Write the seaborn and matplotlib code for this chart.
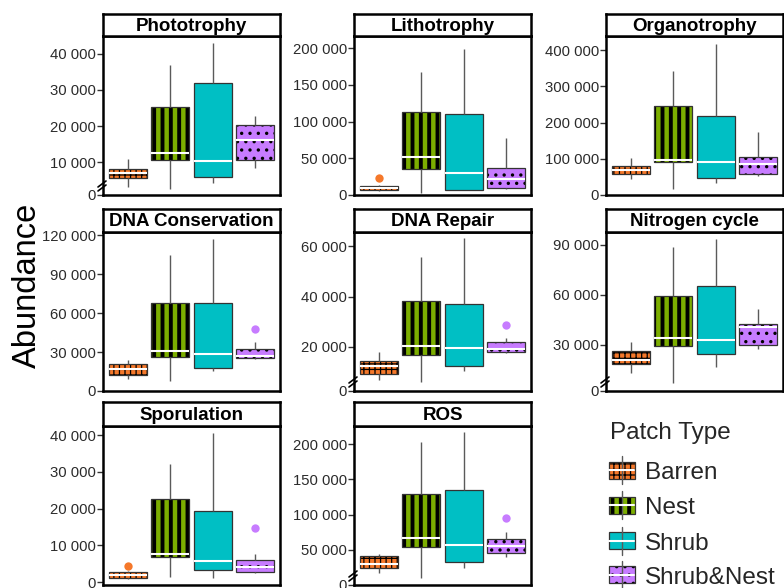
import numpy as np
import pandas as pd
import matplotlib
matplotlib.use("Agg")
import matplotlib.pyplot as plt
import matplotlib.colors as mcolors
from matplotlib.patches import Rectangle
import seaborn as sns

# ---------------------------------------------------------------- data
patch_types = ["Barren", "Nest", "Shrub", "Shrub&Nest"]
functions = ["Phototrophy", "Lithotrophy", "Organotrophy",
             "DNA Conservation", "DNA Repair", "Nitrogen cycle",
             "Sporulation", "ROS"]

# five-number summaries per patch type:
# lower whisker, Q1, median, Q3, upper whisker
phototrophy = [[3130, 5610, 7080, 8190, 10860],
               [2580, 10670, 12600, 25200, 36890],
               [4230, 5890, 10490, 32010, 42870],
               [8370, 10670, 16190, 20420, 22820]]
lithotrophy = [[5500, 7200, 10000, 12600, 13000],
               [3150, 35600, 52250, 113500, 167100],
               [6800, 7200, 29300, 109900, 198600],
               [8100, 9460, 21600, 36500, 77000]]
organotrophy = [[45000, 57000, 69000, 81000, 103000],
                [15600, 90000, 96600, 245600, 342200],
                [34000, 46000, 90200, 219000, 416700],
                [53400, 57000, 85600, 105800, 173000]]
dna_conservation = [[9100, 12100, 16900, 20900, 24200],
                    [7800, 26000, 30500, 68100, 105100],
                    [15100, 17900, 28500, 67800, 117000],
                    [25000, 25500, 26700, 32300, 37600]]
dna_repair = [[6600, 9300, 12300, 14200, 18000],
              [5800, 16700, 20300, 38400, 55800],
              [10500, 12500, 19500, 37000, 63300],
              [17500, 17900, 19000, 21900, 23600]]
nitrogen_cycle = [[13000, 18700, 20900, 26300, 31500],
                  [7000, 29300, 33900, 59400, 88700],
                  [16900, 24500, 32900, 65400, 93700],
                  [27300, 29900, 40500, 42300, 51800]]
sporulation = [[900, 1000, 1930, 2840, 3000],
               [1470, 6900, 7600, 22600, 32200],
               [1200, 3200, 5700, 19400, 40700],
               [2400, 2840, 4200, 5900, 7600]]
ros = [[17600, 23800, 29500, 40500, 43800],
       [10500, 53800, 66200, 128600, 202400],
       [23800, 33300, 56200, 135200, 217100],
       [39500, 44800, 54800, 65200, 75200]]

outlier_function = ["Lithotrophy", "DNA Conservation", "DNA Repair",
                    "Sporulation", "Sporulation", "ROS"]
outlier_patch = ["Barren", "Shrub&Nest", "Shrub&Nest",
                 "Barren", "Shrub&Nest", "Shrub&Nest"]
outlier_value = [22500, 47400, 28500, 4300, 14600, 95200]

# y axis per panel
tick_step = [10000, 50000, 100000, 30000, 20000, 30000, 10000, 50000]
tick_count = [4, 4, 4, 4, 3, 3, 4, 4]
y_floor = [1000, 0, 0, 0, 2400, 2400, -800, 0]
y_ceiling = [44900, 216600, 438900, 122500, 65700, 97700, 42500, 225700]
axis_break = [True, False, False, False, True, True, False, True]

# ---------------------------------------------------------------- styling
palette = {"Barren": "#F5782A", "Nest": "#7CAE00",
           "Shrub": "#00BFC4", "Shrub&Nest": "#C77CFF"}
hatches = {"Barren": "+++", "Nest": "||", "Shrub": "", "Shrub&Nest": ".."}
hatch_lw = {"Barren": 0.9, "Nest": 2.8, "Shrub": 1.0, "Shrub&Nest": 1.2}

sns.set_style("white")
plt.rcParams["font.family"] = ["Liberation Sans", "DejaVu Sans"]

summaries = [phototrophy, lithotrophy, organotrophy, dna_conservation,
             dna_repair, nitrogen_cycle, sporulation, ros]
rows = []
for fname, groups in zip(functions, summaries):
    for ptype, five in zip(patch_types, groups):
        for v in five:
            rows.append((fname, ptype, v))
df = pd.DataFrame(rows, columns=["Function", "Patch", "Abundance"])
out_df = pd.DataFrame({"Function": outlier_function,
                       "Patch": outlier_patch,
                       "Abundance": outlier_value})

W, H = 784, 588
fig = plt.figure(figsize=(W / 100, H / 100), dpi=100)
fig.patch.set_facecolor("white")

col_left = [103, 354, 606]
panel_w = 177
row_geom = [(14, 36, 195), (209, 232, 391), (402, 426, 585)]


def set_hatch(patch, ptype):
    patch.set_hatch(hatches[ptype])
    patch._hatch_color = mcolors.to_rgba("black")
    if hasattr(patch, "set_hatch_linewidth"):
        patch.set_hatch_linewidth(hatch_lw[ptype])


def nearest_patch_type(color):
    rgb = np.array(mcolors.to_rgb(color))
    dists = {k: np.sum((rgb - np.array(mcolors.to_rgb(c))) ** 2)
             for k, c in palette.items()}
    return min(dists, key=dists.get)


for i, fname in enumerate(functions):
    r, c = divmod(i, 3)
    st, sb, fb = row_geom[r]
    left = col_left[c]
    ax = fig.add_axes([left / W, 1 - fb / H, panel_w / W, (fb - sb) / H])
    sub = df[df["Function"] == fname]
    sns.boxplot(data=sub, x="Patch", y="Abundance", hue="Patch",
                order=patch_types, hue_order=patch_types, palette=palette,
                width=0.9, whis=(0, 100), showcaps=False, fliersize=0,
                linewidth=0.9, linecolor="#333333", saturation=1,
                legend=False, ax=ax,
                medianprops=dict(color="white", linewidth=1.5),
                whiskerprops=dict(color="#5a5a5a", linewidth=1.0))
    for p in ax.patches:
        set_hatch(p, nearest_patch_type(p.get_facecolor()))
    sub_out = out_df[out_df["Function"] == fname]
    if len(sub_out):
        sns.stripplot(data=sub_out, x="Patch", y="Abundance", hue="Patch",
                      order=patch_types, hue_order=patch_types,
                      palette=palette, jitter=False, size=6, linewidth=0,
                      legend=False, ax=ax, zorder=5)

    ax.set_xlim(-0.6, 3.6)
    ax.set_ylim(y_floor[i], y_ceiling[i])
    ticks = [tick_step[i] * k for k in range(1, tick_count[i] + 1)]
    tick_pos = [max(y_floor[i], 0)] + ticks
    labels = ["0"] + [f"{t:,}".replace(",", " ") for t in ticks]
    ax.set_yticks(tick_pos)
    ax.set_yticklabels(labels)
    ax.set_xticks([])
    ax.set_xlabel("")
    ax.set_ylabel("")
    ax.tick_params(axis="y", length=4, width=1.0, color="#333333",
                   labelsize=10.7, labelcolor="#2b2b2b", pad=1, left=True)
    for s in ax.spines.values():
        s.set_visible(True)
        s.set_color("black")
        s.set_linewidth(1.8)

    if axis_break[i]:
        ph = fb - sb
        for dy in (0.0, 4.0):
            x0, y0 = -5 / panel_w, (4 + dy) / ph
            x1, y1 = 3 / panel_w, (10 + dy) / ph
            ax.plot([x0, x1], [y0, y1], color="black", lw=1.2,
                    transform=ax.transAxes, clip_on=False, zorder=10)

    sax = fig.add_axes([left / W, 1 - sb / H, panel_w / W, (sb - st) / H])
    sax.set_facecolor("white")
    sax.set_xticks([])
    sax.set_yticks([])
    for s in sax.spines.values():
        s.set_visible(True)
        s.set_color("black")
        s.set_linewidth(1.8)
    sax.text(0.5, 0.45, fname, ha="center", va="center", fontsize=13.5,
             fontweight="bold", color="black", transform=sax.transAxes)

fig.text(27 / W, 1 - 285 / H, "Abundance", rotation=90, ha="center",
         va="center", fontsize=23.5, color="black")

# legend drawn in pixel coordinates
lax = fig.add_axes([0, 0, 1, 1], facecolor="none")
lax.set_xlim(0, W)
lax.set_ylim(H, 0)
lax.axis("off")
lax.text(610, 439, "Patch Type", fontsize=17.5, va="baseline", ha="left")
key_centers = [470, 505, 540.5, 574.5]
for ptype, yc in zip(patch_types, key_centers):
    xc = 622
    lax.plot([xc, xc], [yc - 14, yc + 14], color="#5a5a5a", lw=1.0)
    rect = Rectangle((609, yc - 8.5), 26, 17, facecolor=palette[ptype],
                     edgecolor="#333333", linewidth=0.9)
    lax.add_patch(rect)
    set_hatch(rect, ptype)
    lax.plot([609.5, 634.5], [yc, yc], color="white", lw=1.5)
    lax.text(645, yc + 9, ptype, fontsize=17.5, va="baseline", ha="left")

fig.savefig("out.png", dpi=100, facecolor="white")
